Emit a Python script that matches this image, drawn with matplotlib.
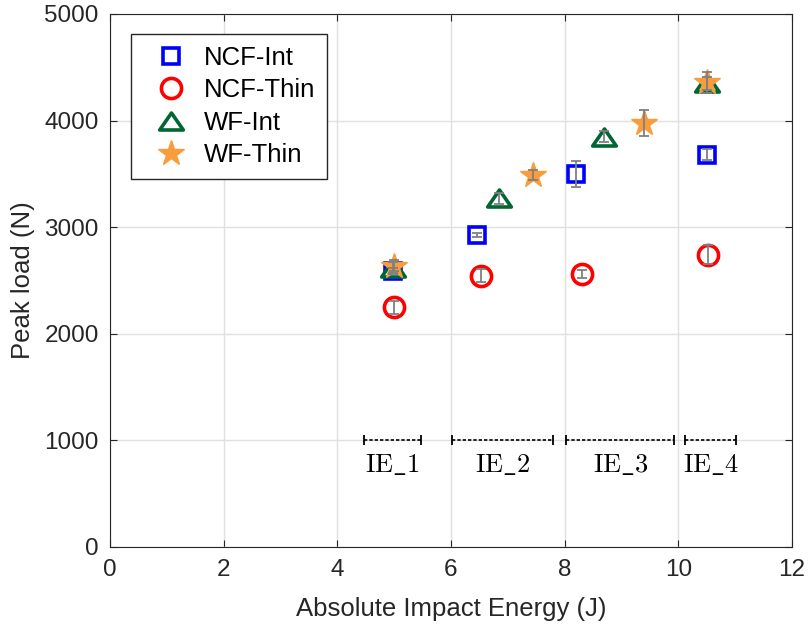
import numpy as np
import matplotlib.pyplot as plt
from matplotlib.path import Path

plt.rcParams['font.family'] = ['Liberation Sans', 'DejaVu Sans']
plt.rcParams['mathtext.fontset'] = 'cm'

# impact energy (J), peak load (N) and std dev for each laminate
ncf_int_x = [4.98, 6.45, 8.2, 10.5]
ncf_int_y = [2590, 2930, 3500, 3680]
ncf_int_err = [30, 20, 125, 50]

ncf_thin_x = [5.0, 6.52, 8.3, 10.52]
ncf_thin_y = [2250, 2545, 2560, 2740]
ncf_thin_err = [60, 60, 40, 90]

wf_int_x = [4.98, 6.85, 8.7, 10.5]
wf_int_y = [2620, 3270, 3850, 4350]
wf_int_err = [50, 50, 50, 60]

wf_thin_x = [5.0, 7.45, 9.4, 10.5]
wf_thin_y = [2640, 3490, 3980, 4360]
wf_thin_err = [50, 50, 120, 100]

# impact energy bands
ie_labels = ['IE_1', 'IE_2', 'IE_3', 'IE_4']
ie_lo = [4.47, 6.02, 8.03, 10.12]
ie_hi = [5.48, 7.8, 9.93, 11.02]
ie_level = 1000

# wide, flat triangle like the MATLAB one
tri = Path([(-1, -0.72), (1, -0.72), (0, 0.72), (-1, -0.72)],
           [Path.MOVETO, Path.LINETO, Path.LINETO, Path.CLOSEPOLY])

fig = plt.figure(figsize=(8.11, 6.33), dpi=100)
ax = fig.add_axes([0.1356, 0.1359, 0.8409, 0.842])

ax.plot(ncf_int_x, ncf_int_y, 's', ms=11.5, mec='#0000ff', mfc='white', mew=2.6,
        ls='none', label='NCF-Int')
ax.plot(ncf_thin_x, ncf_thin_y, 'o', ms=14.5, mec='#ff0000', mfc='white', mew=2.6,
        ls='none', label='NCF-Thin')
ax.plot(wf_int_x, wf_int_y, marker=tri, ms=17, mec='#006633', mfc='white', mew=2.6,
        ls='none', label='WF-Int')
ax.plot(wf_thin_x, wf_thin_y, '*', ms=19, mec='#f99d3c', mfc='#f99d3c', mew=1,
        ls='none', label='WF-Thin')

for xs, ys, es in [(ncf_int_x, ncf_int_y, ncf_int_err),
                   (ncf_thin_x, ncf_thin_y, ncf_thin_err),
                   (wf_int_x, wf_int_y, wf_int_err),
                   (wf_thin_x, wf_thin_y, wf_thin_err)]:
    ax.errorbar(xs, ys, yerr=es, fmt='none', ecolor='#808080', elinewidth=1.3,
                capsize=3.5, capthick=1.3, zorder=5)

for lab, lo, hi in zip(ie_labels, ie_lo, ie_hi):
    ax.plot([lo, hi], [ie_level, ie_level], color='black', ls=(0, (2, 1.2)), lw=1.2)
    ax.plot([lo, hi], [ie_level, ie_level], ls='none', marker='|', ms=7,
            mec='black', mew=1.3)
    ax.text((lo + hi) / 2, 705, r'$\mathrm{' + lab.replace('_', r'\_') + '}$',
            ha='center', va='baseline', fontsize=19)

ax.set_xlim(0, 12)
ax.set_ylim(0, 5000)
ax.set_xticks(np.arange(0, 13, 2))
ax.set_yticks(np.arange(0, 5001, 1000))
ax.grid(True, color='#e0e0e0', lw=1)
ax.set_axisbelow(True)
ax.tick_params(direction='in', labelsize=17.5, length=5, top=True, right=True,
               color='#262626', labelcolor='#262626')
ax.tick_params(axis='x', pad=9)
ax.tick_params(axis='y', pad=8)
for s in ax.spines.values():
    s.set_color('#262626')
ax.set_xlabel('Absolute Impact Energy (J)', fontsize=18.5, color='#262626')
ax.set_ylabel('Peak load (N)', fontsize=18.5, color='#262626')
ax.xaxis.set_label_coords(0.5, -0.094)
ax.yaxis.set_label_coords(-0.11, 0.5)

leg = ax.legend(loc='upper left', bbox_to_anchor=(131 / 811, 1 - 34 / 633),
                bbox_transform=fig.transFigure, borderaxespad=0, fontsize=18.5,
                fancybox=False, edgecolor='#262626', framealpha=1,
                handletextpad=0.2, handlelength=2.2, borderpad=0.45,
                labelspacing=0.33)
leg.get_frame().set_linewidth(1)

fig.savefig('out.png', dpi=100)
